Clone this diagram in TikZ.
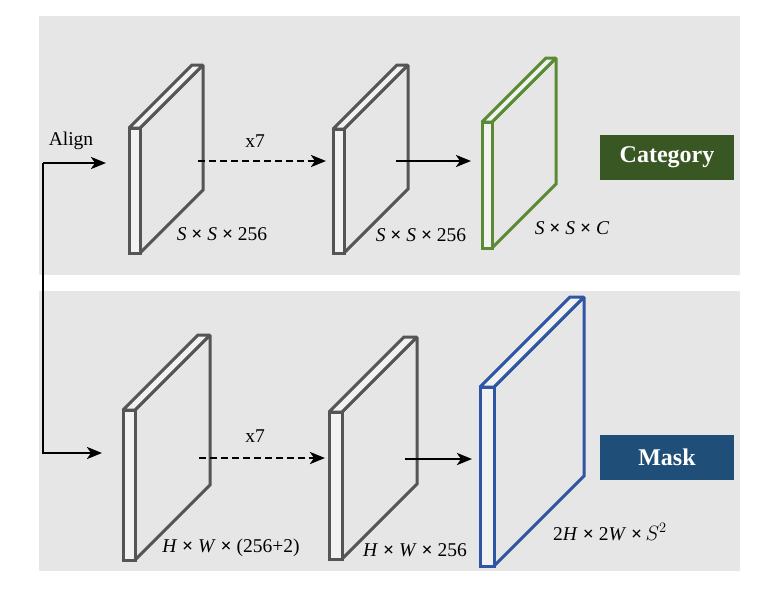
\documentclass[tikz,border=0pt]{standalone}
\usepackage{fontspec}
\setmainfont{Liberation Serif}
\usetikzlibrary{arrows.meta}
\definecolor{panelgray}{HTML}{E6E6E6}
\definecolor{facelight}{HTML}{F2F2F2}
\definecolor{slabgray}{HTML}{555555}
\definecolor{slabgreen}{HTML}{5A8A34}
\definecolor{slabblue}{HTML}{2F55A3}
\definecolor{catgreen}{HTML}{385723}
\definecolor{maskblue}{HTML}{1F4E79}
\newcommand{\myslab}[7]{% name, x0, ytop, t, h, d, color
  \begin{scope}[draw=#7, line width=3pt, line join=miter, miter limit=2]
    \coordinate (#1-fl) at (#2,#3);
    \filldraw[fill=panelgray] (#2+#4,#3) -- (#2+#4+#6,#3-#6) -- (#2+#4+#6,#3+#5-#6) -- (#2+#4,#3+#5) -- cycle;
    \filldraw[fill=facelight] (#2,#3) -- (#2+#6,#3-#6) -- (#2+#4+#6,#3-#6) -- (#2+#4,#3) -- cycle;
    \filldraw[fill=facelight] (#2,#3) rectangle (#2+#4,#3+#5);
  \end{scope}}
\tikzset{
  lbl/.style={font=\fontsize{19.5}{22}\selectfont, inner sep=0pt},
  headbox/.style={font=\fontsize{24}{28}\selectfont\bfseries, text=white, minimum width=134pt, minimum height=45pt, inner sep=0pt},
  conn/.style={line width=2.8pt, -{Stealth[length=15pt,width=12pt,inset=4pt]}},
  dashconn/.style={conn, dash pattern=on 7pt off 4pt},
}
\begin{document}
\begin{tikzpicture}[x=1pt,y=-1pt]
\useasboundingbox (0,0) rectangle (770,603);
% panels
\fill[panelgray] (39,16) rectangle (740,275);
\fill[panelgray] (39,291) rectangle (740,571);
% top slabs
\myslab{s1}{129}{128}{11}{125}{63}{slabgray}
\myslab{s2}{333}{129}{11}{124}{64}{slabgray}
\myslab{s3}{482}{122}{10}{126}{64}{slabgreen}
% bottom slabs
\myslab{b1}{123}{410}{12}{150}{75}{slabgray}
\myslab{b2}{329}{412}{13}{147}{75}{slabgray}
\myslab{b3}{480}{387}{14}{179}{90}{slabblue}
% arrow end points
\coordinate (t1s) at (198,161);
\coordinate (t1e) at (326,161);
\coordinate (t2s) at (396,161);
\coordinate (t2e) at (471,161);
\coordinate (u1s) at (199,458);
\coordinate (u1e) at (325,458);
\coordinate (u2s) at (405,459);
\coordinate (u2e) at (472,459);
\coordinate (corner) at (43,163);
\coordinate (alignTop) at (106,163);
\coordinate (alignBot) at (102,453);
% connectors
\draw[dashconn] (t1s) -- (t1e);
\draw[conn] (t2s) -- (t2e);
\draw[dashconn] (u1s) -- (u1e);
\draw[conn] (u2s) -- (u2e);
\draw[conn] (corner) -- (alignTop);
\draw[conn] (corner) |- (alignBot);
% labels
\node[lbl] (align) at (71,141) {Align};
\node[lbl] (x7a) at (255,141) {x7};
\node[lbl] (x7b) at (255,436) {x7};
\node[lbl] (l1) at (222,234) {\textit{S} \textbf{×} \textit{S} \textbf{×} 256};
\node[lbl] (l2) at (421,235) {\textit{S} \textbf{×} \textit{S} \textbf{×} 256};
\node[lbl] (l3) at (572,228) {\textit{S} \textbf{×} \textit{S} \textbf{×} \textit{C}};
\node[lbl] (l4) at (231,548) {\textit{H} \textbf{×} \textit{W} \textbf{×} (256+2)};
\node[lbl] (l5) at (415,550) {\textit{H} \textbf{×} \textit{W} \textbf{×} 256};
\node[lbl] (l6) at (610,532) {2\textit{H} \textbf{×} 2\textit{W} \textbf{×}\,$S^2$};
% head boxes
\node[headbox, fill=catgreen] (cat) at (667,157.5) {Category};
\node[headbox, fill=maskblue] (mask) at (667,457) {Mask};
\end{tikzpicture}
\end{document}
